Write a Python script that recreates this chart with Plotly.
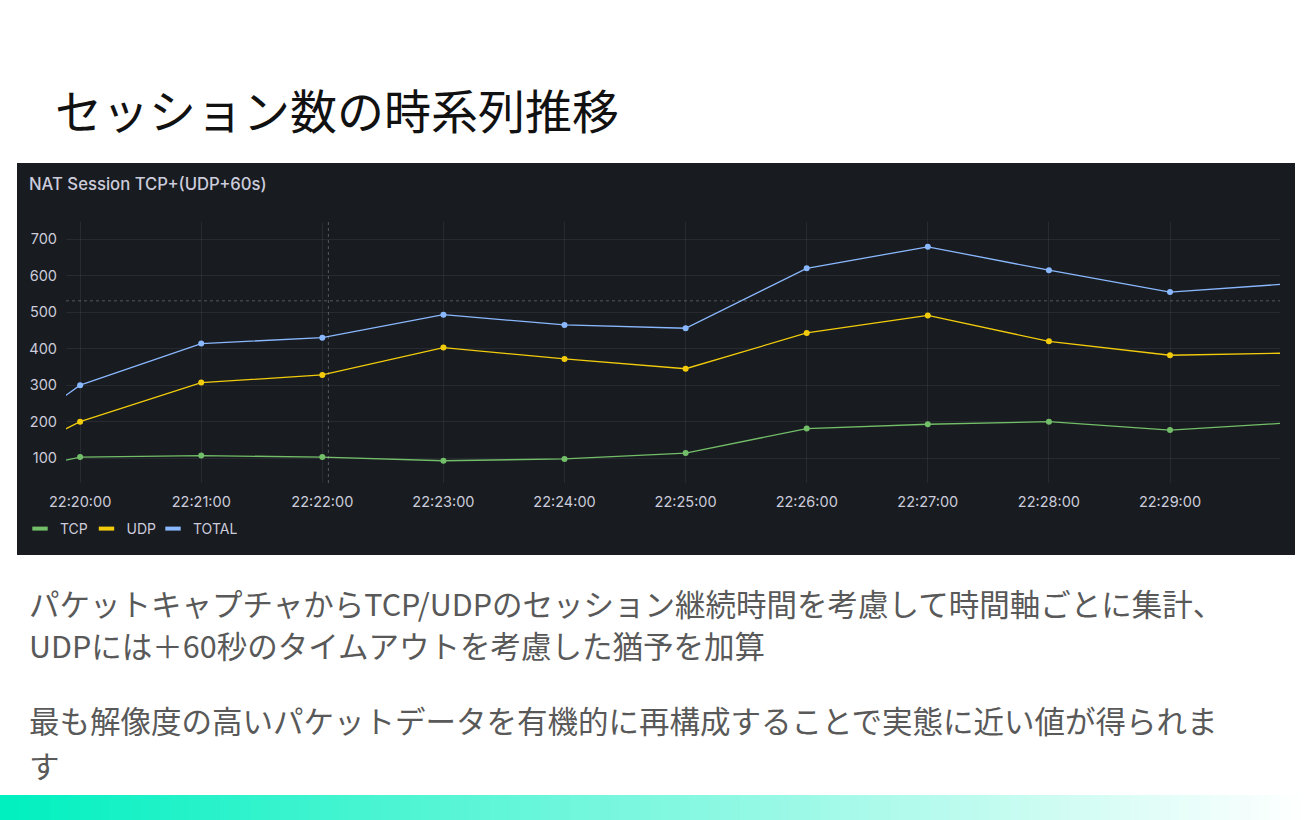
import plotly.graph_objects as go

# ---- data ----
day = "2024-01-01 "
times = ["22:19:00", "22:20:00", "22:21:00", "22:22:00", "22:23:00", "22:24:00",
         "22:25:00", "22:26:00", "22:27:00", "22:28:00", "22:29:00", "22:30:00"]
tcp = [30, 103, 107, 103, 93, 98, 114, 181, 193, 200, 177, 197]
udp = [35, 200, 307, 328, 403, 372, 345, 443, 491, 420, 382, 388]
total = [65, 300, 414, 430, 493, 465, 456, 620, 679, 615, 555, 578]
series_names = ["TCP", "UDP", "TOTAL"]
ytick_vals = [100, 200, 300, 400, 500, 600, 700]

page_title = "セッション数の時系列推移"
panel_title = "NAT Session TCP+(UDP+60s)"
body_lines = [
    "パケットキャプチャからTCP/UDPのセッション継続時間を考慮して時間軸ごとに集計、",
    "UDPには＋60秒のタイムアウトを考慮した猶予を加算",
    "最も解像度の高いパケットデータを有機的に再構成することで実態に近い値が得られま",
    "す",
]

# hover crosshair visible in the screenshot
cross_time = "22:22:03"
cross_value = 531

# ---- layout helpers (pixel -> paper) ----
W, H = 1309, 820
PL, PR, PT, PB = 66, 1280, 222, 483


def px_x(px):
    return (px - PL) / (PR - PL)


def px_y(py):
    return (PB - py) / (PB - PT)


colors = ["#73BF69", "#F2CC0C", "#8AB8FF"]
panel_bg = "#181b1f"
text_col = "#ccccdc"
grid_col = "rgba(204,204,220,0.09)"
cross_col = "rgba(204,204,220,0.35)"

x = [day + t for t in times]

fig = go.Figure()
for name, ys, c in zip(series_names, [tcp, udp, total], colors):
    fig.add_trace(go.Scatter(x=x, y=ys, mode="lines+markers", name=name,
                             line=dict(color=c, width=1.3),
                             marker=dict(color=c, size=6),
                             showlegend=False))
# legend-only entries (short thick dashes like Grafana)
for name, c in zip(series_names, colors):
    fig.add_trace(go.Scatter(x=[None], y=[None], mode="markers", name=name,
                             marker=dict(symbol="line-ew", size=11,
                                         line=dict(color=c, width=4))))
# empty trailing entry so the last label is not clipped by the fixed entry width
fig.add_trace(go.Scatter(x=[None], y=[None], mode="markers", name=" ",
                         marker=dict(color="rgba(0,0,0,0)", size=1,
                                     line=dict(width=0, color="rgba(0,0,0,0)"))))

shapes = [
    # dark panel
    dict(type="rect", xref="paper", yref="paper", layer="below",
         x0=px_x(17), x1=px_x(1295), y0=px_y(555), y1=px_y(163),
         fillcolor=panel_bg, line=dict(width=0)),
    # crosshair
    dict(type="line", xref="x", yref="paper", x0=day + cross_time, x1=day + cross_time,
         y0=0, y1=1, line=dict(color=cross_col, width=1, dash="3px,3px")),
    dict(type="line", xref="paper", yref="y", x0=0, x1=1, y0=cross_value, y1=cross_value,
         line=dict(color=cross_col, width=1, dash="3px,3px")),
]

# bottom gradient bar
n_steps = 131
start = (0, 240, 192)
for i in range(n_steps):
    t = i / (n_steps - 1)
    r, g, b = [int(round(s + (255 - s) * t)) for s in start]
    shapes.append(dict(type="rect", xref="paper", yref="paper",
                       x0=px_x(i * 10), x1=px_x(i * 10 + 11),
                       y0=px_y(820), y1=px_y(795),
                       fillcolor=f"rgb({r},{g},{b})", line=dict(width=0)))

annotations = [
    dict(text=page_title, xref="paper", yref="paper", x=px_x(53), y=px_y(108),
         xanchor="left", yanchor="middle", showarrow=False,
         font=dict(family="Noto Sans CJK JP", size=47, color="#111111")),
    dict(text=panel_title, xref="paper", yref="paper", x=px_x(27), y=px_y(184),
         xanchor="left", yanchor="middle", showarrow=False,
         font=dict(family="Inter", size=16.7, color=text_col, weight=500)),
]
for line, ypx in zip(body_lines, [603, 645, 720, 765]):
    annotations.append(dict(text=line, xref="paper", yref="paper", x=px_x(27), y=px_y(ypx),
                            xanchor="left", yanchor="middle", showarrow=False,
                            font=dict(family="Noto Sans CJK JP", size=30.5, color="#595959")))

fig.update_layout(
    width=W, height=H,
    margin=dict(l=PL, r=W - PR, t=PT, b=H - PB),
    paper_bgcolor="white",
    plot_bgcolor=panel_bg,
    shapes=shapes,
    annotations=annotations,
    legend=dict(orientation="h", x=px_x(20), y=px_y(529), xanchor="left", yanchor="middle",
                font=dict(family="Inter", size=14, color=text_col),
                bgcolor="rgba(0,0,0,0)", itemwidth=30,
                entrywidth=21.5, entrywidthmode="pixels"),
    hovermode=False,
)
fig.update_xaxes(type="date", range=[day + "22:19:53", day + "22:29:54.5"],
                 dtick=60000, tickformat="%H:%M:%S", showgrid=True, gridcolor=grid_col,
                 zeroline=False, showline=False, ticks="", ticklabelstandoff=8,
                 tickfont=dict(family="Inter", size=14.5, color=text_col))
fig.update_yaxes(range=[32, 747], tickvals=ytick_vals, showgrid=True, gridcolor=grid_col,
                 zeroline=False, showline=False, ticks="", ticklabelstandoff=8,
                 tickfont=dict(family="Inter", size=14.5, color=text_col))

fig.write_html("out.html", config={"displayModeBar": False},
               post_script="document.body.style.margin='0';")
